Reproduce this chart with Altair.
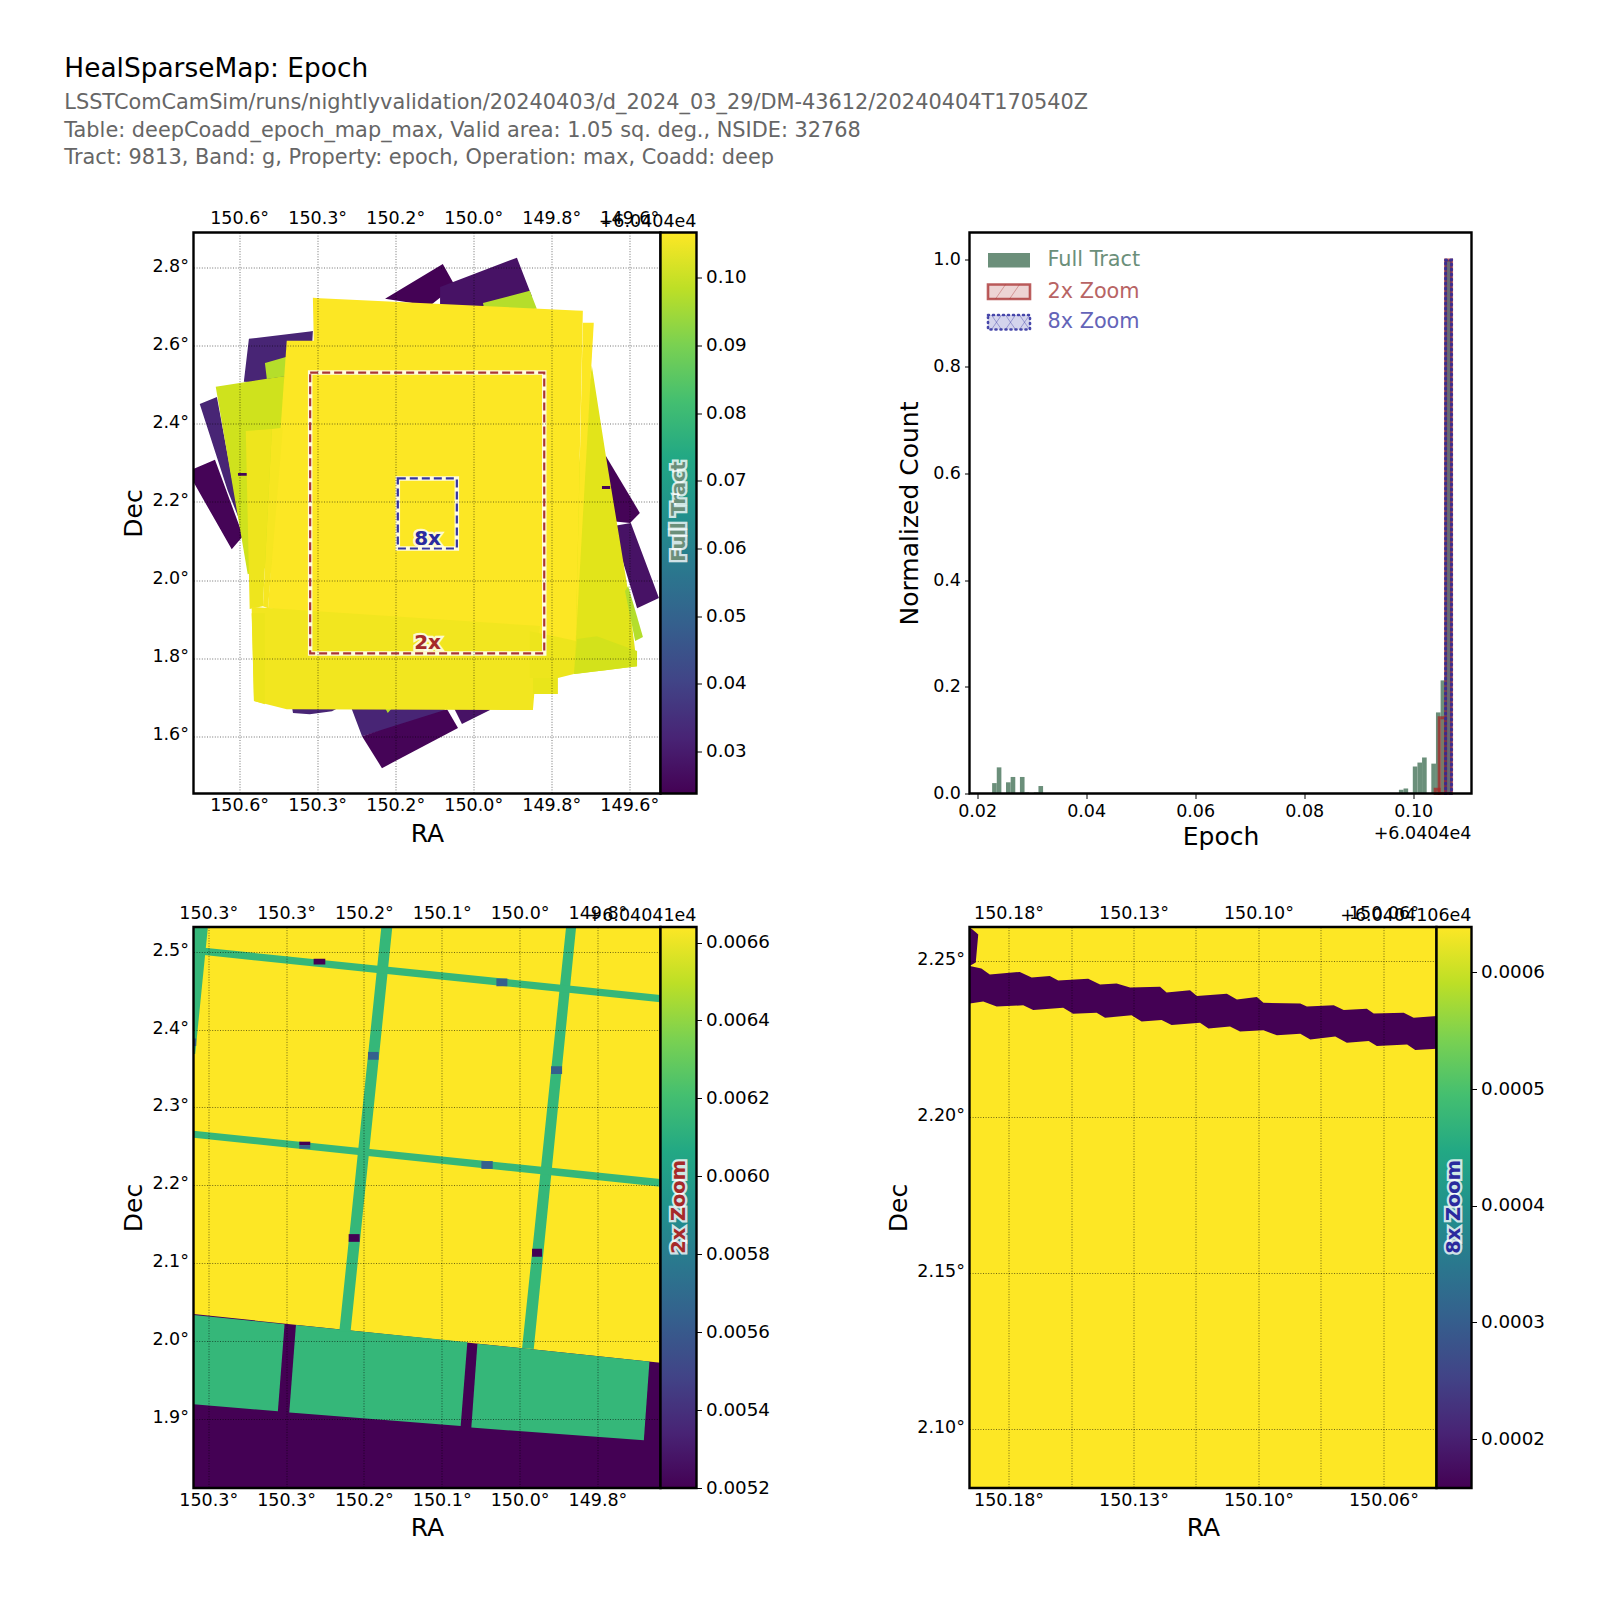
import altair as alt
import pandas as pd

FONT = "DejaVu Sans"
VIRIDIS = ["#440154", "#482475", "#414487", "#355f8d", "#2a788e", "#21918c",
           "#22a884", "#44bf70", "#7ad151", "#bddf26", "#fde725"]
GREEN, RED, BLUE = "#6b8f7a", "#a52a2a", "#2a2a9e"

# ---- text
TITLE = "HealSparseMap: Epoch"
SUBTITLES = ["LSSTComCamSim/runs/nightlyvalidation/20240403/d_2024_03_29/DM-43612/20240404T170540Z",
             "Table: deepCoadd_epoch_map_max, Valid area: 1.05 sq. deg., NSIDE: 32768",
             "Tract: 9813, Band: g, Property: epoch, Operation: max, Coadd: deep"]

# ---- full tract map: (value, [(RA, Dec), ...]) painted in this order
TRACT_POLYS = [
    (0.0240, [(150.226, 2.721), (150.078, 2.810), (150.047, 2.754), (150.111, 2.703)]),
    (0.0275, [(150.085, 2.751), (149.888, 2.826), (149.850, 2.728), (149.855, 2.690), (150.085, 2.690)]),
    (0.0976, [(149.975, 2.710), (149.855, 2.741), (149.837, 2.695), (149.970, 2.685)]),
    (0.0320, [(150.575, 2.618), (150.411, 2.638), (150.419, 2.497), (150.588, 2.508)]),
    (0.0320, [(150.701, 2.451), (150.657, 2.469), (150.598, 2.151), (150.629, 2.228)]),
    (0.0245, [(150.716, 2.285), (150.662, 2.308), (150.590, 2.113), (150.619, 2.079), (150.716, 2.249)]),
    (0.0245, [(149.660, 2.318), (149.573, 2.172), (149.598, 2.146), (149.649, 2.151), (149.675, 2.279)]),
    (0.0275, [(149.596, 2.146), (149.524, 1.954), (149.580, 1.928), (149.644, 2.138)]),
    (0.0320, [(150.316, 1.682), (150.285, 1.600), (150.073, 1.659), (150.073, 1.690)]),
    (0.0245, [(150.285, 1.600), (150.234, 1.518), (150.039, 1.621), (150.067, 1.669)]),
    (0.0275, [(150.052, 1.677), (150.029, 1.631), (149.957, 1.667), (149.957, 1.690)]),
    (0.0320, [(150.465, 1.677), (150.337, 1.677), (150.362, 1.664), (150.419, 1.656), (150.462, 1.659)]),
    (0.0976, [(150.226, 1.672), (150.208, 1.672), (150.219, 1.659)]),
    (0.1008, [(150.660, 2.495), (150.483, 2.523), (150.483, 2.049), (150.578, 2.015)]),
    (0.0976, [(150.534, 2.556), (150.478, 2.572), (150.478, 2.523), (150.529, 2.515)]),
    (0.0245, [(150.603, 2.274), (150.578, 2.274), (150.578, 2.267), (150.603, 2.267)]),
    (0.1031, [(149.696, 2.549), (149.660, 2.318), (149.606, 1.990), (149.580, 1.779), (149.742, 1.759), (149.742, 2.203)]),
    (0.0975, [(149.603, 1.985), (149.565, 1.854), (149.585, 1.844), (149.611, 1.972)]),
    (0.1013, [(149.734, 1.849), (149.683, 1.856), (149.580, 1.818), (149.580, 1.779), (149.742, 1.759)]),
    (0.0245, [(149.670, 2.241), (149.649, 2.241), (149.649, 2.233), (149.670, 2.233)]),
    (0.1065, [(150.478, 2.613), (150.393, 2.613), (150.393, 1.908), (150.526, 1.928)]),
    (0.1046, [(150.583, 2.382), (150.516, 2.387), (150.539, 1.933), (150.573, 1.926)]),
    (0.1057, [(150.516, 2.387), (150.488, 2.390), (150.526, 1.928), (150.539, 1.933)]),
    (0.1065, [(150.411, 2.723), (149.719, 2.690), (149.737, 1.844), (150.393, 1.844)]),
    (0.1065, [(149.719, 2.659), (149.691, 2.659), (149.737, 1.844)]),
    (0.1052, [(150.568, 1.931), (149.829, 1.882), (149.847, 1.667), (150.478, 1.669), (150.562, 1.690)]),
    (0.1045, [(149.855, 1.869), (149.737, 1.844), (149.742, 1.759), (149.783, 1.749), (149.855, 1.749)]),
    (0.1040, [(149.847, 1.749), (149.783, 1.749), (149.783, 1.708), (149.847, 1.708)]),
    (0.1045, [(150.568, 1.915), (150.534, 1.915), (150.534, 1.682), (150.562, 1.690)]),
]
BOX_2X = [150.418, 149.818, 2.5315, 1.812]
BOX_8X = [150.1933, 150.042, 2.2603, 2.0808]
LABEL_2X = (150.117, 1.838)
LABEL_8X = (150.117, 2.106)

# ---- 2x map
V2_Y, V2_G, V2_B, V2_D = 0.00664, 0.00616, 0.00563, 0.0052
ZOOM2_POLYS = [
    (V2_Y, [(150.4189, 2.5315), (149.819, 2.5315), (149.819, 1.8118), (150.4189, 1.8118)]),
    (V2_D, [(150.4189, 2.0349), (149.819, 1.9726), (149.819, 1.8118), (150.4189, 1.8118)]),
    (V2_G, [(150.4189, 2.0339), (150.3019, 2.0219), (150.3105, 1.9103), (150.4189, 1.9193)]),
    (V2_G, [(150.2873, 2.0209), (150.0671, 1.9990), (150.0757, 1.8914), (150.2959, 1.9088)]),
    (V2_G, [(150.0542, 1.9970), (149.8332, 1.9741), (149.8404, 1.8729), (150.0620, 1.8894)]),
    (V2_G, [(150.4189, 2.5315), (150.4004, 2.5315), (150.4167, 2.3687), (150.4189, 2.3687)]),
    (V2_G, [(150.1776, 2.5315), (150.1635, 2.5315), (150.2171, 2.0125), (150.2316, 2.0125)]),
    (V2_G, [(149.9403, 2.5315), (149.9274, 2.5315), (149.9818, 1.9900), (149.9968, 1.9910)]),
    (V2_G, [(150.4081, 2.5052), (149.819, 2.4444), (149.819, 2.4350), (150.4081, 2.4958)]),
    (V2_G, [(150.4189, 2.2701), (149.819, 2.2083), (149.819, 2.1983), (150.4189, 2.2611)]),
    (V2_D, [(150.2646, 2.4908), (150.2496, 2.4908), (150.2496, 2.4833), (150.2646, 2.4833)]),
    (V2_D, [(150.2830, 2.2561), (150.2689, 2.2561), (150.2689, 2.2516), (150.2830, 2.2516)]),
    (V2_B, [(150.2830, 2.2516), (150.2689, 2.2516), (150.2689, 2.2471), (150.2830, 2.2471)]),
    (V2_B, [(150.0298, 2.4654), (150.0157, 2.4654), (150.0157, 2.4554), (150.0298, 2.4554)]),
    (V2_B, [(150.1948, 2.3712), (150.1811, 2.3712), (150.1811, 2.3612), (150.1948, 2.3612)]),
    (V2_B, [(149.9596, 2.3528), (149.9454, 2.3528), (149.9454, 2.3428), (149.9596, 2.3428)]),
    (V2_D, [(150.2196, 2.1375), (150.2055, 2.1375), (150.2055, 2.1276), (150.2196, 2.1276)]),
    (V2_D, [(149.9840, 2.1186), (149.9711, 2.1186), (149.9711, 2.1086), (149.9840, 2.1086)]),
    (V2_B, [(150.0491, 2.2312), (150.0345, 2.2312), (150.0345, 2.2212), (150.0491, 2.2212)]),
    (V2_B, [(150.4189, 2.3886), (150.4154, 2.3886), (150.4154, 2.3787), (150.4189, 2.3787)]),
]

# ---- 8x map
V8_MIN, V8_MAX = 0.000158, 0.000639
BAND_TOP_RA = [150.1924, 150.1887, 150.1860, 150.1764, 150.1726, 150.1668, 150.1641, 150.1545, 150.1507, 150.1454,
               150.1411, 150.1315, 150.1294, 150.1219, 150.1197, 150.1101, 150.1069, 150.1005, 150.0984, 150.0866,
               150.0845, 150.0759, 150.0727, 150.0653, 150.0631, 150.0535, 150.0503, 150.0429]
BAND_TOP_DEC = [2.2484, 2.2476, 2.2457, 2.2465, 2.2447, 2.2452, 2.2438, 2.2443, 2.2425, 2.2428,
                2.2415, 2.2418, 2.2399, 2.2406, 2.2388, 2.2395, 2.2377, 2.2385, 2.2366, 2.2364,
                2.2354, 2.2358, 2.2343, 2.2347, 2.2332, 2.2334, 2.2318, 2.2324]
BAND_LOW_RA = [150.1924, 150.1881, 150.1838, 150.1753, 150.1721, 150.1625, 150.1593, 150.1518, 150.1491, 150.1406,
               150.1374, 150.1310, 150.1278, 150.1187, 150.1160, 150.1091, 150.1059, 150.0984, 150.0941, 150.0866,
               150.0834, 150.0754, 150.0717, 150.0647, 150.0621, 150.0524, 150.0498, 150.0429]
BAND_LOW_DEC = [2.2364, 2.2370, 2.2354, 2.2358, 2.2343, 2.2350, 2.2331, 2.2334, 2.2318, 2.2326,
                2.2306, 2.2311, 2.2295, 2.2302, 2.2284, 2.2290, 2.2274, 2.2278, 2.2262, 2.2267,
                2.2249, 2.2258, 2.2238, 2.2244, 2.2228, 2.2233, 2.2215, 2.2219]
CORNER_8X = [(150.1925, 2.2609), (150.1897, 2.2585), (150.1905, 2.2495), (150.1925, 2.2484)]

# ---- histogram (bin start, bin end, normalized count)
FULL_START = [0.02275, 0.02360, 0.02530, 0.02615, 0.02785, 0.02870, 0.03040, 0.03125,
              0.09738, 0.09823, 0.09993, 0.10078, 0.10163, 0.10333, 0.10418, 0.10503, 0.10588]
FULL_END = [0.02360, 0.02445, 0.02615, 0.02700, 0.02870, 0.02955, 0.03125, 0.03210,
            0.09823, 0.09908, 0.10078, 0.10163, 0.10248, 0.10418, 0.10503, 0.10588, 0.10704]
FULL_COUNT = [0.0195, 0.049, 0.021, 0.031, 0.031, 0.002, 0.002, 0.014,
              0.007, 0.0094, 0.0506, 0.058, 0.0675, 0.056, 0.152, 0.212, 1.0]
Z2_START = [0.10403, 0.10477, 0.10594]
Z2_END = [0.10477, 0.10594, 0.10704]
Z2_COUNT = [0.008, 0.142, 1.0]
Z8_START = [0.10594]
Z8_END = [0.10704]
Z8_COUNT = [1.0]

# ---- axes
X1_TICKS = [150.6, 150.4, 150.2, 150.0, 149.8, 149.6]
X1_LABELS = ["150.6°", "150.3°", "150.2°", "150.0°", "149.8°", "149.6°"]
Y1_TICKS = [2.8, 2.6, 2.4, 2.2, 2.0, 1.8, 1.6]
X2_TICKS = [150.4, 150.3, 150.2, 150.1, 150.0, 149.9]
X2_LABELS = ["150.3°", "150.3°", "150.2°", "150.1°", "150.0°", "149.8°"]
Y2_TICKS = [2.5, 2.4, 2.3, 2.2, 2.1, 2.0, 1.9]
X3_TICKS = [150.18, 150.16, 150.14, 150.12, 150.10, 150.08, 150.06]
X3_LABELS = ["150.18°", "", "150.13°", "", "150.10°", "", "150.06°"]
Y3_TICKS = [2.25, 2.20, 2.15, 2.10]
CB1_TICKS = [0.03, 0.04, 0.05, 0.06, 0.07, 0.08, 0.09, 0.10]
CB2_TICKS = [0.0052, 0.0054, 0.0056, 0.0058, 0.0060, 0.0062, 0.0064, 0.0066]
CB3_TICKS = [0.0002, 0.0003, 0.0004, 0.0005, 0.0006]

MAP_W, PANEL_H, CB_W = 467, 561, 36
TICK_FS, TITLE_FS = 17.5, 25
ONE = pd.DataFrame({"a": [0]})


def poly_rows(pid, value, verts):
    """Upper and lower edge of a convex outline at each of its vertices."""
    edges = list(zip(verts, verts[1:] + verts[:1]))
    rows = []
    for x in sorted({v[0] for v in verts}):
        ys = []
        for (x0, y0), (x1, y1) in edges:
            if min(x0, x1) <= x <= max(x0, x1):
                if x0 == x1:
                    ys += [y0, y1]
                else:
                    ys.append(y0 + (y1 - y0) * (x - x0) / (x1 - x0))
        rows.append({"pid": pid, "value": value, "ra": x, "top": max(ys), "bottom": min(ys)})
    return rows


def rows_from(polys, start=0):
    out = []
    for i, (v, verts) in enumerate(polys):
        out += poly_rows(start + i, v, verts)
    return out


def label_expr(ticks, labels):
    return f"{labels}[indexof({ticks}, datum.value)]"


def frame(w, h):
    return alt.Chart(ONE).mark_rect(fillOpacity=0, stroke="black", strokeWidth=2.4).encode(
        x=alt.value(0), x2=alt.value(w), y=alt.value(0), y2=alt.value(h))


def halo_text(text, color, size, **kw):
    a = dict(text=text, font=FONT, fontWeight="bold", fontSize=size, align="center", baseline="middle", **kw)
    return (alt.Chart(ONE).mark_text(color=color, stroke="white", strokeWidth=4.5, strokeOpacity=0.8, **a),
            alt.Chart(ONE).mark_text(color=color, **a))


GRID = dict(grid=True, gridColor="black", gridOpacity=0.55, gridDash=[1, 1.6], gridWidth=1, zindex=1)


def y_axis(yticks, yfmt):
    return alt.Axis(orient="left", values=yticks, labelExpr=f"format(datum.value,'{yfmt}')+'°'", title="Dec",
                    titleFontWeight="normal", titleFontSize=TITLE_FS, labelFontSize=TICK_FS, domain=False, ticks=False,
                    labelPadding=5, labelOffset=-1.5, titlePadding=5, labelFont=FONT, titleFont=FONT, labelColor="black",
                    titleColor="black", **GRID)


def map_panel(rows, cdom, xdom, ydom, xticks, xlabels, yticks, yfmt, extra=()):
    xs = alt.Scale(domain=xdom, nice=False, zero=False)
    ys = alt.Scale(domain=ydom, nice=False, zero=False)
    expr = label_expr(xticks, xlabels)
    xaxis = alt.Axis(orient="bottom", values=xticks, labelExpr=expr, title="RA", titleFontWeight="normal",
                     titleFontSize=TITLE_FS, labelFontSize=TICK_FS, domain=False, ticks=False, labelPadding=3,
                     titlePadding=7, labelFont=FONT, titleFont=FONT, labelOverlap=False, labelColor="black",
                     titleColor="black", **GRID)
    area = alt.Chart(pd.DataFrame(rows)).mark_area(clip=True, interpolate="linear").encode(
        x=alt.X("ra:Q", scale=xs, axis=xaxis),
        y=alt.Y("top:Q", scale=ys, axis=y_axis(yticks, yfmt)),
        y2=alt.Y2("bottom:Q"),
        color=alt.Color("value:Q", scale=alt.Scale(scheme="viridis", domain=cdom), legend=None),
        detail="pid:N",
    )
    top = alt.Chart(pd.DataFrame({"ra": xticks})).mark_rule(opacity=0).encode(
        x=alt.X("ra:Q", scale=xs, axis=alt.Axis(orient="top", values=xticks, labelExpr=expr, title=None,
                                                grid=False, domain=False, ticks=False, labelPadding=5,
                                                labelFontSize=TICK_FS, labelFont=FONT, labelOverlap=False,
                                                labelColor="black")))
    return alt.layer(area, top, *extra, frame(MAP_W, PANEL_H)).resolve_axis(x="independent").properties(
        width=MAP_W, height=PANEL_H)


def box(b, color, yax):
    d = pd.DataFrame({"r1": [b[0]], "r2": [b[1]], "d1": [b[2]], "d2": [b[3]]})
    enc = dict(x=alt.X("r1:Q", axis=None), x2="r2:Q", y=alt.Y("d1:Q", axis=yax), y2="d2:Q")
    return (alt.Chart(d).mark_rect(fillOpacity=0, stroke="white", strokeWidth=4.5, strokeOpacity=0.85).encode(**enc),
            alt.Chart(d).mark_rect(fillOpacity=0, stroke=color, strokeWidth=2.2, strokeDash=[8, 4], strokeOpacity=0.95).encode(**enc))


def box_label(text, pos, color, yax):
    d = pd.DataFrame({"r": [pos[0]], "d": [pos[1]]})
    return [c.properties(data=d).encode(x=alt.X("r:Q", axis=None), y=alt.Y("d:Q", axis=yax))
            for c in halo_text(text, color, 20)]


def colorbar(dom, ticks, fmt, name, color, cy, offset, w=CB_W):
    stops = [{"offset": i / 10, "color": c} for i, c in enumerate(VIRIDIS)]
    grad = {"gradient": "linear", "x1": 0, "y1": 1, "x2": 0, "y2": 0, "stops": stops}
    d = pd.DataFrame({"lo": [dom[0]], "hi": [dom[1]]})
    bar = alt.Chart(d).mark_rect(fill=grad).encode(
        x=alt.value(0), x2=alt.value(w),
        y=alt.Y("lo:Q", scale=alt.Scale(domain=dom, nice=False, zero=False),
                axis=alt.Axis(orient="right", values=ticks, format=fmt, title=None, grid=False, domain=False,
                              tickSize=5, labelPadding=4, labelFontSize=18.3, labelFont=FONT, labelColor="black",
                              tickColor="black")),
        y2="hi:Q")
    h, t = halo_text(name, color, 19.4, angle=270)
    pos = dict(x=alt.value(w / 2), y=alt.value(cy))
    off = alt.Chart(ONE).mark_text(text=offset, font=FONT, fontSize=TICK_FS, align="right", baseline="middle",
                                   color="black").encode(x=alt.value(w), y=alt.value(-11))
    return alt.layer(bar, h.encode(**pos), t.encode(**pos), off, frame(w, PANEL_H)).properties(width=w, height=PANEL_H)


# ---------- panels
c1 = [0.0238, 0.1067]
yax1 = y_axis(Y1_TICKS, ".1f")
tract_extra = [*box(BOX_2X, RED, yax1), *box(BOX_8X, BLUE, yax1),
               *box_label("2x", LABEL_2X, RED, yax1), *box_label("8x", LABEL_8X, BLUE, yax1)]
map1 = map_panel(rows_from(TRACT_POLYS), c1, [150.717, 149.520], [1.453, 2.8905], X1_TICKS, X1_LABELS, Y1_TICKS, ".1f", tract_extra)
cb1 = colorbar(c1, CB1_TICKS, ".2f", "Full Tract", GREEN, 279, "+6.0404e4")

c2 = [V2_D, V2_Y]
map2 = map_panel(rows_from(ZOOM2_POLYS), c2, [150.4189, 149.819], [1.8118, 2.5315], X2_TICKS, X2_LABELS, Y2_TICKS, ".1f")
cb2 = colorbar(c2, CB2_TICKS, ".4f", "2x Zoom", RED, 280, "+6.04041e4")

c3 = [V8_MIN, V8_MAX]
X3_DOM = [150.1925, 150.043]
Y3_DOM = [2.0812, 2.2609]
rows3 = poly_rows(0, V8_MAX, [(X3_DOM[0], Y3_DOM[1]), (X3_DOM[1], Y3_DOM[1]), (X3_DOM[1], Y3_DOM[0]), (X3_DOM[0], Y3_DOM[0])])
rows3 += [{"pid": 1, "value": V8_MIN, "ra": r, "top": d, "bottom": Y3_DOM[0]} for r, d in zip(BAND_TOP_RA, BAND_TOP_DEC)]
rows3 += [{"pid": 2, "value": V8_MAX, "ra": r, "top": d, "bottom": Y3_DOM[0]} for r, d in zip(BAND_LOW_RA, BAND_LOW_DEC)]
rows3 += poly_rows(3, V8_MIN, CORNER_8X)
map3 = map_panel(rows3, c3, X3_DOM, Y3_DOM, X3_TICKS, X3_LABELS, Y3_TICKS, ".2f")
cb3 = colorbar(c3, CB3_TICKS, ".4f", "8x Zoom", BLUE, 280, "+6.0404106e4", w=35)

# ---------- histogram (drawn 502 wide inside a cell as wide as the map column)
H_W = 502
hx = alt.Scale(domain=[0.0186, 0.1107], nice=False, zero=False, range=[0, H_W])
hy = alt.Scale(domain=[0, 1.0515], nice=False)
hxa = alt.Axis(values=[0.02, 0.04, 0.06, 0.08, 0.10], format=".2f", title="Epoch", titleFontWeight="normal", titleFontSize=25,
               labelFontSize=TICK_FS, tickSize=5, labelPadding=4, titlePadding=4, titleX=H_W / 2, domain=False, grid=False,
               labelFont=FONT, titleFont=FONT, labelColor="black", tickColor="black", titleColor="black")
hya = alt.Axis(values=[0, 0.2, 0.4, 0.6, 0.8, 1.0], format=".1f", title="Normalized Count", titleFontWeight="normal", titleFontSize=25,
               labelFontSize=TICK_FS, tickSize=5, labelPadding=4, titlePadding=10, domain=False, grid=False,
               labelFont=FONT, titleFont=FONT, labelColor="black", tickColor="black", titleColor="black")
full = pd.DataFrame({"s": FULL_START, "e": FULL_END, "c": FULL_COUNT})
z2 = pd.DataFrame({"s": Z2_START, "e": Z2_END, "c": Z2_COUNT})
z8 = pd.DataFrame({"s": Z8_START, "e": Z8_END, "c": Z8_COUNT})
h_full = alt.Chart(full).mark_rect(color=GREEN).encode(
    x=alt.X("s:Q", scale=hx, axis=hxa), x2="e:Q", y=alt.Y("c:Q", scale=hy, axis=hya), y2=alt.datum(0))
h_z2 = alt.Chart(z2).mark_rect(fill=RED, fillOpacity=0.2, stroke=RED, strokeOpacity=0.75, strokeWidth=3).encode(
    x=alt.X("s:Q", scale=hx, axis=hxa), x2="e:Q", y=alt.Y("c:Q", scale=hy, axis=hya), y2=alt.datum(0))
h_z8 = alt.Chart(z8).mark_rect(fill=BLUE, fillOpacity=0.2, stroke=BLUE, strokeOpacity=0.85, strokeWidth=3,
                               strokeDash=[1, 4], strokeCap="round").encode(
    x=alt.X("s:Q", scale=hx, axis=hxa), x2="e:Q", y=alt.Y("c:Q", scale=hy, axis=hya), y2=alt.datum(0))


def legend_rect(y0, **kw):
    return alt.Chart(ONE).mark_rect(**kw).encode(x=alt.value(18.5), x2=alt.value(60.5), y=alt.value(y0), y2=alt.value(y0 + 14.5))


def legend_text(text, y, color):
    return alt.Chart(ONE).mark_text(text=text, font=FONT, fontSize=20.8, color=color, align="left", baseline="middle").encode(
        x=alt.value(78), y=alt.value(y))


def legend_hatch(x0, x1, y0, y1, color):
    return alt.Chart(ONE).mark_rule(color=color, opacity=0.4, strokeWidth=0.9).encode(
        x=alt.value(x0), x2=alt.value(x1), y=alt.value(y0), y2=alt.value(y1))


h_legend = [
    legend_rect(20.5, color=GREEN),
    legend_rect(52, fill=RED, fillOpacity=0.2, stroke=RED, strokeOpacity=0.75, strokeWidth=2.6),
    legend_hatch(26, 36, 66.5, 52, RED), legend_hatch(40, 50, 66.5, 52, RED),
    legend_rect(82.5, fill=BLUE, fillOpacity=0.2, stroke=BLUE, strokeOpacity=0.85, strokeWidth=2.6, strokeDash=[1, 4], strokeCap="round"),
    legend_hatch(22, 32, 97, 82.5, BLUE), legend_hatch(36, 46, 97, 82.5, BLUE), legend_hatch(50, 60, 97, 82.5, BLUE),
    legend_hatch(22, 32, 82.5, 97, BLUE), legend_hatch(36, 46, 82.5, 97, BLUE), legend_hatch(50, 60, 82.5, 97, BLUE),
    legend_text("Full Tract", 27.5, GREEN),
    legend_text("2x Zoom", 59, "#b86464"),
    legend_text("8x Zoom", 89.5, "#6464b8"),
]
h_off = alt.Chart(ONE).mark_text(text="+6.0404e4", font=FONT, fontSize=TICK_FS, align="right", baseline="middle", color="black").encode(
    x=alt.value(H_W), y=alt.value(601))
hist = alt.layer(h_full, h_z2, h_z8, *h_legend, h_off, frame(H_W, PANEL_H)).properties(width=MAP_W, height=PANEL_H)

# ---------- heading
head = [alt.Chart(ONE).mark_text(text=TITLE, font=FONT, fontSize=26.4, color="black", align="left", baseline="middle").encode(
    x=alt.value(-129.2), y=alt.value(-5))]
for line, y in zip(SUBTITLES, [29, 56.5, 84]):
    head.append(alt.Chart(ONE).mark_text(text=line, font=FONT, fontSize=20.85, color="#666666", align="left", baseline="middle").encode(
        x=alt.value(-129.2), y=alt.value(y)))
heading = alt.layer(*head).properties(width=467, height=25)


def spacer(w, h):
    return alt.Chart(ONE).mark_rule(opacity=0).encode(x=alt.value(0)).properties(width=w, height=h)


cells = [heading, spacer(36, 25), spacer(273, 25), spacer(467, 25), spacer(35, 25),
         map1, cb1, spacer(273, PANEL_H), hist, spacer(35, PANEL_H),
         map2, cb2, spacer(273, PANEL_H), map3, cb3]
chart = alt.concat(*cells, columns=5, align="none", bounds="flush",
                   spacing=alt.RowColnumber(row=133.5, column=0)).resolve_scale(color="independent").properties(
    padding={"left": 55.5, "top": 47, "right": 20, "bottom": 20}
).configure_view(stroke="transparent")

chart.save("out.html", embed_options={"renderer": "svg", "actions": False})
